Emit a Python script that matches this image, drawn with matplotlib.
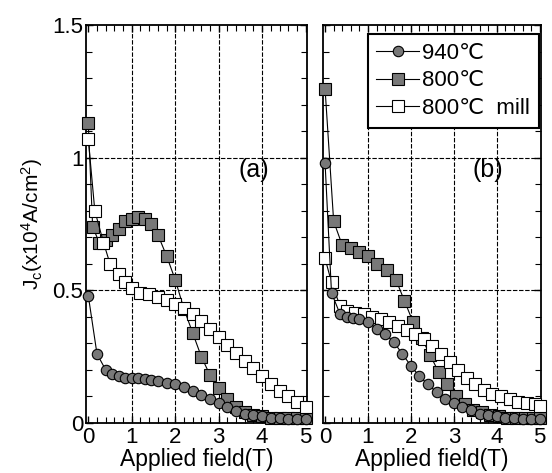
import matplotlib
matplotlib.use('Agg')
import matplotlib.pyplot as plt
from matplotlib.ticker import MultipleLocator, FixedLocator, FixedFormatter

plt.rcParams['font.family'] = ['Liberation Sans', 'DejaVu Sans']
plt.rcParams['mathtext.fontset'] = 'custom'
plt.rcParams['mathtext.rm'] = 'Liberation Sans'
plt.rcParams['mathtext.it'] = 'Liberation Sans:italic'

# panel (a)
a940_x = [0, 0.2, 0.4, 0.55, 0.7, 0.85, 1.0, 1.15, 1.3, 1.45, 1.6, 1.8, 2.0, 2.2, 2.4, 2.6,
          2.8, 3.0, 3.2, 3.4, 3.6, 3.8, 4.0, 4.2, 4.4, 4.6, 4.8, 5.0]
a940_y = [0.48, 0.26, 0.20, 0.185, 0.175, 0.17, 0.17, 0.168, 0.165, 0.16, 0.158, 0.152, 0.145,
          0.135, 0.12, 0.105, 0.09, 0.075, 0.06, 0.045, 0.035, 0.03, 0.025, 0.02, 0.018, 0.016,
          0.015, 0.015]
a800_x = [0, 0.1, 0.25, 0.4, 0.55, 0.7, 0.85, 1.0, 1.15, 1.3, 1.45, 1.6, 1.8, 2.0, 2.2, 2.4,
          2.6, 2.8, 3.0, 3.2, 3.4, 3.6, 3.8, 4.0, 4.2, 4.4, 4.6, 4.8, 5.0]
a800_y = [1.13, 0.74, 0.68, 0.69, 0.71, 0.73, 0.76, 0.77, 0.775, 0.77, 0.75, 0.71, 0.63, 0.54,
          0.43, 0.34, 0.25, 0.18, 0.13, 0.09, 0.06, 0.04, 0.03, 0.025, 0.02, 0.02, 0.02, 0.02, 0.02]
amill_x = [0, 0.15, 0.35, 0.5, 0.7, 0.85, 1.0, 1.2, 1.4, 1.6, 1.8, 2.0, 2.2, 2.4, 2.6, 2.8,
           3.0, 3.2, 3.4, 3.6, 3.8, 4.0, 4.2, 4.4, 4.6, 4.8, 5.0]
amill_y = [1.07, 0.80, 0.68, 0.60, 0.56, 0.53, 0.51, 0.49, 0.485, 0.475, 0.465, 0.45, 0.435,
           0.41, 0.385, 0.355, 0.325, 0.295, 0.265, 0.235, 0.205, 0.175, 0.145, 0.12, 0.10,
           0.08, 0.06]

# panel (b)
b940_x = [0, 0.15, 0.35, 0.5, 0.65, 0.8, 1.0, 1.2, 1.4, 1.6, 1.8, 2.0, 2.2, 2.4, 2.6, 2.8,
          3.0, 3.2, 3.4, 3.6, 3.8, 4.0, 4.2, 4.4, 4.6, 4.8, 5.0]
b940_y = [0.98, 0.49, 0.41, 0.40, 0.395, 0.39, 0.38, 0.355, 0.335, 0.305, 0.26, 0.215, 0.175,
          0.145, 0.115, 0.09, 0.075, 0.06, 0.05, 0.035, 0.03, 0.025, 0.02, 0.018, 0.016, 0.015,
          0.015]
b800_x = [0, 0.2, 0.4, 0.6, 0.8, 1.0, 1.2, 1.45, 1.65, 1.85, 2.05, 2.25, 2.45, 2.65, 2.85,
          3.05, 3.25, 3.45, 3.65, 3.85, 4.05, 4.25, 4.45, 4.65, 4.85, 5.0]
b800_y = [1.26, 0.76, 0.67, 0.66, 0.645, 0.63, 0.60, 0.575, 0.54, 0.46, 0.38, 0.32, 0.255,
          0.19, 0.145, 0.10, 0.07, 0.05, 0.04, 0.03, 0.025, 0.02, 0.02, 0.02, 0.02, 0.02]
bmill_x = [0, 0.15, 0.35, 0.5, 0.7, 0.9, 1.1, 1.3, 1.5, 1.7, 1.9, 2.1, 2.3, 2.5, 2.7, 2.9,
           3.1, 3.3, 3.5, 3.7, 3.9, 4.1, 4.3, 4.5, 4.7, 4.9, 5.0]
bmill_y = [0.62, 0.53, 0.44, 0.42, 0.415, 0.41, 0.40, 0.39, 0.38, 0.365, 0.35, 0.335, 0.315,
           0.29, 0.26, 0.23, 0.2, 0.17, 0.145, 0.125, 0.11, 0.1, 0.09, 0.08, 0.075, 0.07, 0.065]

labels = ['940\u2103', '800\u2103', '800\u2103  mill']
x_ticks = [0, 1, 2, 3, 4, 5]
y_ticks = [0, 0.5, 1, 1.5]
y_ticklabels = ['0', '0.5', '1', '1.5']

gray = '#787878'

fig = plt.figure(figsize=(5.52, 4.73), dpi=100)
ax_a = fig.add_axes([0.156, 0.106, 0.400, 0.841])
ax_b = fig.add_axes([0.585, 0.106, 0.395, 0.841])


def draw_panel(ax, d940, d800, dmill):
    ax.plot(d940[0], d940[1], '-o', color='black', lw=0.8, ms=7.5, mfc=gray, mec='black',
            mew=0.8, clip_on=False, zorder=4, label=labels[0])
    ax.plot(d800[0], d800[1], '-s', color='black', lw=0.8, ms=8.8, mfc=gray, mec='black',
            mew=0.8, clip_on=False, zorder=3, label=labels[1])
    ax.plot(dmill[0], dmill[1], '-s', color='black', lw=0.8, ms=8.8, mfc='white', mec='black',
            mew=0.8, clip_on=False, zorder=3, label=labels[2])
    ax.set_xlim(-0.05, 5.03)
    ax.set_ylim(0, 1.5)
    ax.xaxis.set_major_locator(FixedLocator(x_ticks))
    ax.xaxis.set_minor_locator(MultipleLocator(0.2))
    ax.yaxis.set_major_locator(FixedLocator(y_ticks))
    ax.yaxis.set_minor_locator(MultipleLocator(0.1))
    ax.tick_params(which='both', direction='in', top=True, right=True, labelsize=16)
    ax.tick_params(axis='x', which='major', pad=3)
    ax.tick_params(axis='y', which='major', pad=2)
    ax.tick_params(which='major', length=5, width=1)
    ax.tick_params(which='minor', length=4, width=0.8)
    for v in [1, 2, 3, 4]:
        ax.axvline(v, color='black', lw=0.8, ls=(0, (4, 1.5)), zorder=1)
    for v in [0.5, 1.0]:
        ax.axhline(v, color='black', lw=0.8, ls=(0, (4, 1.5)), zorder=1)
    for s in ax.spines.values():
        s.set_linewidth(1.3)
    ax.set_xlabel('Applied field(T)', fontsize=16.5, labelpad=0)


draw_panel(ax_a, (a940_x, a940_y), (a800_x, a800_y), (amill_x, amill_y))
draw_panel(ax_b, (b940_x, b940_y), (b800_x, b800_y), (bmill_x, bmill_y))

ax_a.yaxis.set_major_formatter(FixedFormatter(y_ticklabels))
ax_b.set_yticklabels([])
ax_a.set_ylabel('J$_\\mathregular{c}$(x10$^\\mathregular{4}$A/cm$^\\mathregular{2}$)', fontsize=15,
                labelpad=5)

ax_a.text(3.8, 0.955, '(a)', fontsize=18, ha='center', va='center')
ax_b.text(3.8, 0.955, '(b)', fontsize=18, ha='center', va='center')

leg = ax_b.legend(loc='upper right', bbox_to_anchor=(0.99, 0.978), borderaxespad=0,
                  fontsize=16, handlelength=1.9, handletextpad=0.15, labelspacing=0.3,
                  borderpad=0.4, fancybox=False, framealpha=1, edgecolor='black')
leg.get_frame().set_linewidth(1.5)

fig.savefig('out.png', dpi=100)
